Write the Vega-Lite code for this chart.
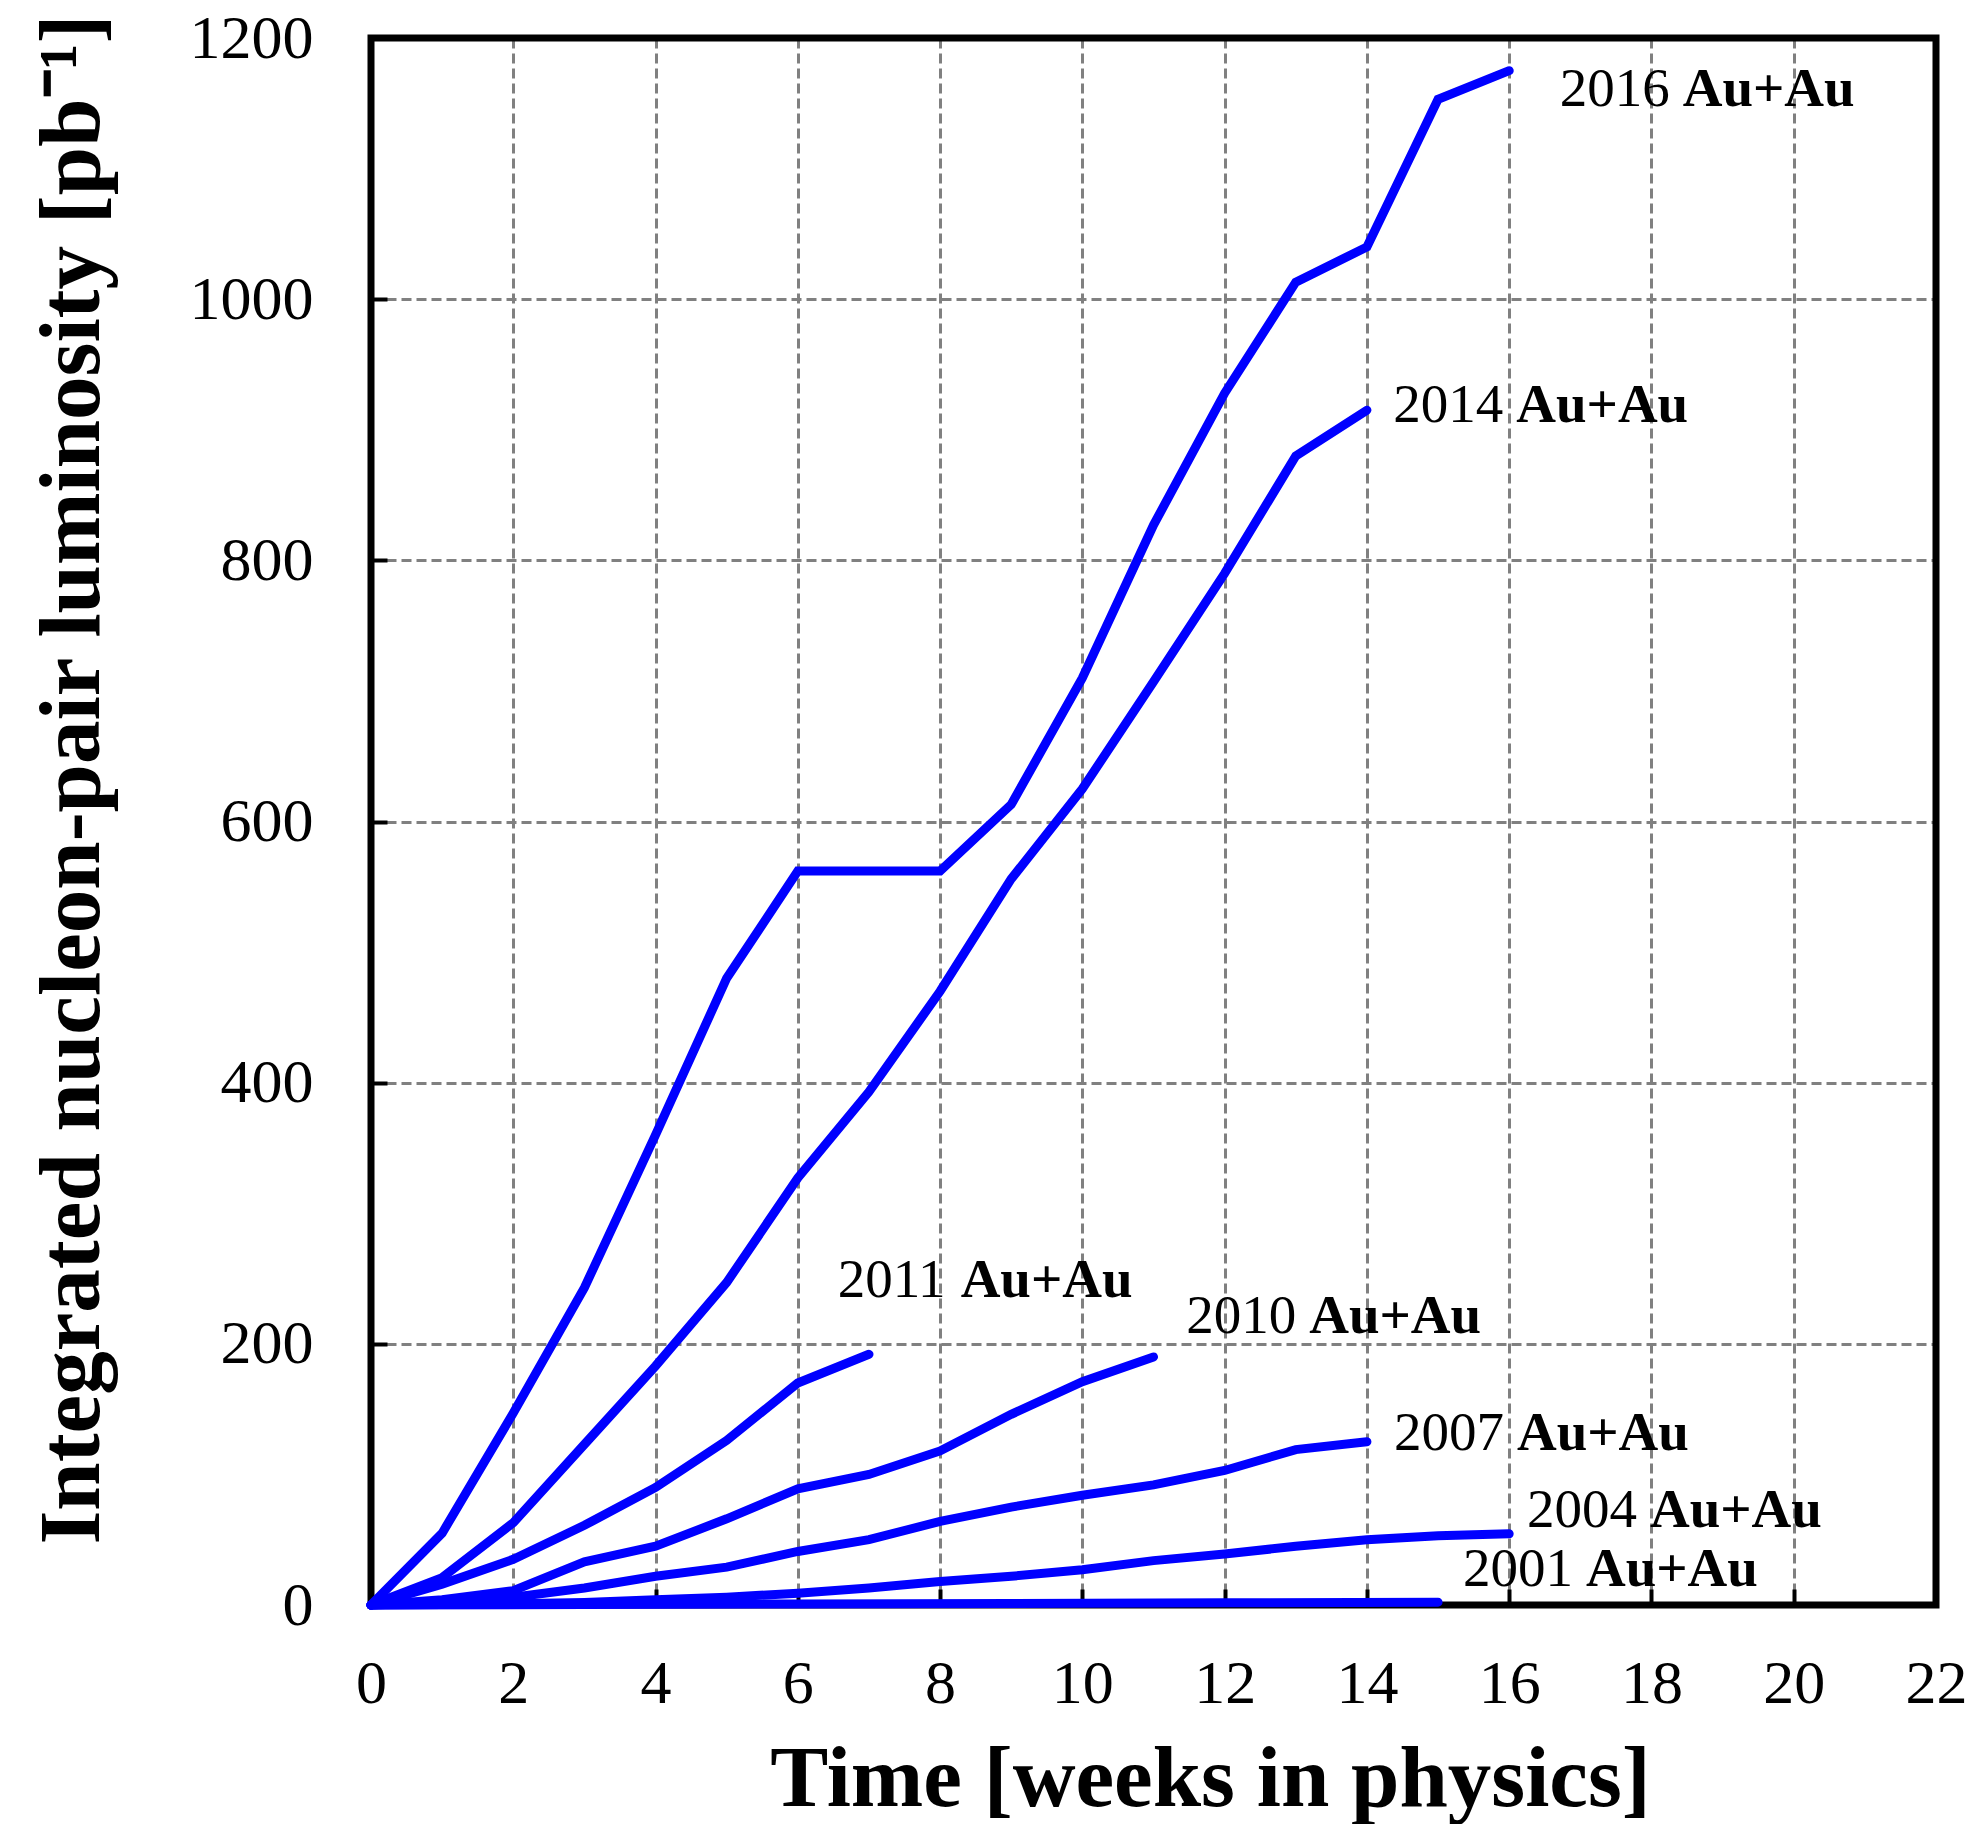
{
  "$schema": "https://vega.github.io/schema/vega-lite/v6.json",
  "width": 1565,
  "height": 1567,
  "autosize": {"type": "none"},
  "padding": {"left": 371, "top": 38, "right": 41, "bottom": 219},
  "background": "white",
  "config": {
    "view": {"stroke": null},
    "font": "Liberation Serif",
    "axis": {
      "domain": false,
      "grid": true,
      "gridColor": "#808080",
      "gridDash": [10, 5],
      "gridWidth": 3,
      "ticks": true,
      "tickColor": "black",
      "tickWidth": 4,
      "tickSize": -16,
      "labelFont": "Liberation Serif",
      "labelFontSize": 62,
      "labelColor": "black",
      "labelFlush": false,
      "labelOverlap": false,
      "format": "d",
      "titleFont": "Liberation Serif",
      "titleFontSize": 87,
      "titleFontWeight": "bold",
      "titleColor": "black"
    }
  },
  "datasets": {
    "runs": [
      {"year": "2016", "week": 0, "lum": 0},
      {"year": "2016", "week": 1, "lum": 55},
      {"year": "2016", "week": 2, "lum": 147},
      {"year": "2016", "week": 3, "lum": 243},
      {"year": "2016", "week": 4, "lum": 360},
      {"year": "2016", "week": 5, "lum": 480},
      {"year": "2016", "week": 6, "lum": 562},
      {"year": "2016", "week": 7, "lum": 562},
      {"year": "2016", "week": 8, "lum": 562},
      {"year": "2016", "week": 9, "lum": 613},
      {"year": "2016", "week": 10, "lum": 710},
      {"year": "2016", "week": 11, "lum": 827},
      {"year": "2016", "week": 12, "lum": 928},
      {"year": "2016", "week": 13, "lum": 1013},
      {"year": "2016", "week": 14, "lum": 1040},
      {"year": "2016", "week": 15, "lum": 1153},
      {"year": "2016", "week": 16, "lum": 1175},
      {"year": "2014", "week": 0, "lum": 0},
      {"year": "2014", "week": 1, "lum": 21},
      {"year": "2014", "week": 2, "lum": 63},
      {"year": "2014", "week": 3, "lum": 123},
      {"year": "2014", "week": 4, "lum": 183},
      {"year": "2014", "week": 5, "lum": 247},
      {"year": "2014", "week": 6, "lum": 327},
      {"year": "2014", "week": 7, "lum": 393},
      {"year": "2014", "week": 8, "lum": 470},
      {"year": "2014", "week": 9, "lum": 556},
      {"year": "2014", "week": 10, "lum": 625},
      {"year": "2014", "week": 11, "lum": 707},
      {"year": "2014", "week": 12, "lum": 790},
      {"year": "2014", "week": 13, "lum": 880},
      {"year": "2014", "week": 14, "lum": 915},
      {"year": "2011", "week": 0, "lum": 0},
      {"year": "2011", "week": 1, "lum": 16},
      {"year": "2011", "week": 2, "lum": 35},
      {"year": "2011", "week": 3, "lum": 61},
      {"year": "2011", "week": 4, "lum": 90},
      {"year": "2011", "week": 5, "lum": 126},
      {"year": "2011", "week": 6, "lum": 170},
      {"year": "2011", "week": 7, "lum": 192},
      {"year": "2010", "week": 0, "lum": 0},
      {"year": "2010", "week": 1, "lum": 4},
      {"year": "2010", "week": 2, "lum": 11},
      {"year": "2010", "week": 3, "lum": 33},
      {"year": "2010", "week": 4, "lum": 45},
      {"year": "2010", "week": 5, "lum": 66},
      {"year": "2010", "week": 6, "lum": 89},
      {"year": "2010", "week": 7, "lum": 100},
      {"year": "2010", "week": 8, "lum": 118},
      {"year": "2010", "week": 9, "lum": 146},
      {"year": "2010", "week": 10, "lum": 171},
      {"year": "2010", "week": 11, "lum": 190},
      {"year": "2007", "week": 0, "lum": 0},
      {"year": "2007", "week": 1, "lum": 2},
      {"year": "2007", "week": 2, "lum": 6},
      {"year": "2007", "week": 3, "lum": 13},
      {"year": "2007", "week": 4, "lum": 22},
      {"year": "2007", "week": 5, "lum": 29},
      {"year": "2007", "week": 6, "lum": 41},
      {"year": "2007", "week": 7, "lum": 50},
      {"year": "2007", "week": 8, "lum": 64},
      {"year": "2007", "week": 9, "lum": 75},
      {"year": "2007", "week": 10, "lum": 84},
      {"year": "2007", "week": 11, "lum": 92},
      {"year": "2007", "week": 12, "lum": 103},
      {"year": "2007", "week": 13, "lum": 119},
      {"year": "2007", "week": 14, "lum": 125},
      {"year": "2004", "week": 0, "lum": 0},
      {"year": "2004", "week": 1, "lum": 0.3},
      {"year": "2004", "week": 2, "lum": 1},
      {"year": "2004", "week": 3, "lum": 2},
      {"year": "2004", "week": 4, "lum": 4},
      {"year": "2004", "week": 5, "lum": 6},
      {"year": "2004", "week": 6, "lum": 9},
      {"year": "2004", "week": 7, "lum": 13},
      {"year": "2004", "week": 8, "lum": 18},
      {"year": "2004", "week": 9, "lum": 22},
      {"year": "2004", "week": 10, "lum": 27},
      {"year": "2004", "week": 11, "lum": 34},
      {"year": "2004", "week": 12, "lum": 39},
      {"year": "2004", "week": 13, "lum": 45},
      {"year": "2004", "week": 14, "lum": 50},
      {"year": "2004", "week": 15, "lum": 53},
      {"year": "2004", "week": 16, "lum": 54.5},
      {"year": "2001", "week": 0, "lum": 0},
      {"year": "2001", "week": 3, "lum": 0.3},
      {"year": "2001", "week": 6, "lum": 0.8},
      {"year": "2001", "week": 9, "lum": 1.2},
      {"year": "2001", "week": 12, "lum": 1.7},
      {"year": "2001", "week": 15, "lum": 2.2}
    ],
    "labels": [
      {"year": "2016", "beam": "Au+Au", "week": 16.71, "lum": 1148},
      {"year": "2014", "beam": "Au+Au", "week": 14.37, "lum": 906},
      {"year": "2011", "beam": "Au+Au", "week": 6.56, "lum": 236},
      {"year": "2010", "beam": "Au+Au", "week": 11.46, "lum": 208},
      {"year": "2007", "beam": "Au+Au", "week": 14.38, "lum": 118.7},
      {"year": "2004", "beam": "Au+Au", "week": 16.25, "lum": 59.7},
      {"year": "2001", "beam": "Au+Au", "week": 15.35, "lum": 14.5}
    ],
    "frame": [
      {"week": 0, "week2": 22, "lum": 0, "lum2": 1200}
    ]
  },
  "layer": [
    {
      "data": {"name": "frame"},
      "mark": {"type": "rect", "fill": null, "stroke": "black", "strokeWidth": 7, "clip": false},
      "encoding": {
        "x": {
          "field": "week",
          "type": "quantitative",
          "scale": {"domain": [0, 22], "nice": false, "zero": false},
          "axis": {
            "values": [0, 2, 4, 6, 8, 10, 12, 14, 16, 18, 20, 22],
            "labelBaseline": "alphabetic",
            "labelPadding": 113,
            "title": "Time [weeks in physics]",
            "titleX": 839,
            "titleY": 200,
            "titleAlign": "center",
            "titleBaseline": "alphabetic"
          }
        },
        "x2": {"field": "week2"},
        "y": {
          "field": "lum",
          "type": "quantitative",
          "scale": {"domain": [0, 1200], "nice": false},
          "axis": {
            "values": [0, 200, 400, 600, 800, 1000, 1200],
            "labelBaseline": "middle",
            "labelPadding": 74,
            "title": "Integrated nucleon-pair luminosity [pb⁻¹]",
            "titleAngle": -90,
            "titleX": -273,
            "titleY": 741,
            "titleAlign": "center",
            "titleBaseline": "alphabetic"
          }
        },
        "y2": {"field": "lum2"}
      }
    },
    {
      "data": {"name": "runs"},
      "mark": {"type": "line", "color": "#0000ff", "strokeWidth": 9, "strokeCap": "round", "clip": false},
      "encoding": {
        "x": {"field": "week", "type": "quantitative"},
        "y": {"field": "lum", "type": "quantitative"},
        "detail": {"field": "year"},
        "order": {"field": "week", "type": "quantitative"}
      }
    },
    {
      "data": {"name": "labels"},
      "mark": {"type": "text", "align": "left", "baseline": "alphabetic", "font": "Liberation Serif", "fontSize": 55, "color": "black"},
      "encoding": {
        "x": {"field": "week", "type": "quantitative"},
        "y": {"field": "lum", "type": "quantitative"},
        "text": {"field": "year"}
      }
    },
    {
      "data": {"name": "labels"},
      "mark": {"type": "text", "align": "left", "baseline": "alphabetic", "font": "Liberation Serif", "fontSize": 55, "fontWeight": "bold", "dx": 123, "color": "black"},
      "encoding": {
        "x": {"field": "week", "type": "quantitative"},
        "y": {"field": "lum", "type": "quantitative"},
        "text": {"field": "beam"}
      }
    }
  ]
}
